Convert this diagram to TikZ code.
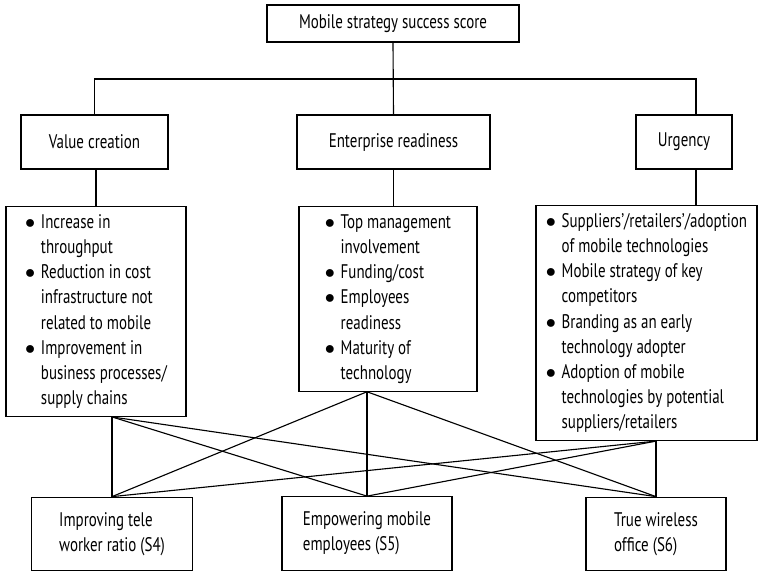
\documentclass[tikz,border=0pt]{standalone}
\usepackage{fontspec}
\setmainfont{PT Sans}[FakeStretch=0.76]
\usetikzlibrary{positioning}

\begin{document}
\begin{tikzpicture}[
    x=0.025cm, y=-0.025cm,
    font=\fontsize{14pt}{17.9pt}\selectfont,
    box/.style={
        draw=black,
        line width=0.8pt,
        align=center,
        inner sep=2pt
    },
    head/.style={
        box,
        minimum height=1.35cm
    },
    list/.style={
        box,
        anchor=north,
        inner ysep=3pt
    },
    leaf/.style={
        box,
        align=left,
        minimum height=1.84cm
    },
    link/.style={line width=0.8pt, draw=black}
]
\useasboundingbox (0,0) rectangle (758,573);

\node[box, minimum width=6.3cm, minimum height=0.925cm] (score) at (393,23.5) {Mobile strategy success score};

\node[head, minimum width=3.675cm] (value) at (94.5,142) {Value creation};
\node[head, minimum width=4.825cm] (ready) at (393.5,142) {Enterprise readiness};
\node[head, minimum width=2.4cm] (urgency) at (684,142) {Urgency};

\node[list, minimum width=4.5cm] (vlist) at (96,206) {%
\begin{tabular}{@{}l@{\hspace{4pt}}l@{}}
$\bullet$ & Increase in\\
 & throughput\\
$\bullet$ & Reduction in cost\\
 & infrastructure not\\
 & related to mobile\\
$\bullet$ & Improvement in\\
 & business processes/\\
 & supply chains
\end{tabular}};
\node[list, minimum width=4.45cm] (elist) at (388,206) {%
\begin{tabular}{@{}l@{\hspace{4pt}}l@{}}
$\bullet$ & Top management\\
 & involvement\\
$\bullet$ & Funding/cost\\
$\bullet$ & Employees\\
 & readiness\\
$\bullet$ & Maturity of\\
 & technology
\end{tabular}};
\node[list, minimum width=5.525cm] (ulist) at (646.5,205) {%
\begin{tabular}{@{}l@{\hspace{4pt}}l@{}}
$\bullet$ & Suppliers’/retailers’/adoption\\
 & of mobile technologies\\
$\bullet$ & Mobile strategy of key\\
 & competitors\\
$\bullet$ & Branding as an early\\
 & technology adopter\\
$\bullet$ & Adoption of mobile\\
 & technologies by potential\\
 & suppliers/retailers
\end{tabular}};

\node[leaf, minimum width=4.025cm] (s4) at (112,534) {Improving tele\\worker ratio (S4)};
\node[leaf, minimum width=4.25cm] (s5) at (367,533.5) {Empowering mobile\\employees (S5)};
\node[leaf, minimum width=3.5cm] (s6) at (656,534) {True wireless\\office (S6)};

% tree above the lists
\coordinate (ujoin) at (696,79);
\draw[link] (score.south) -- (ready.north);
\draw[link] (value.north) |- (ujoin) -- (ujoin |- urgency.north);
\draw[link] (vlist.north |- value.south) -- (vlist.north);
\draw[link] (ready.south) -- (ready.south |- elist.north);
\draw[link] (ujoin |- urgency.south) -- (ujoin |- ulist.north);

% every list feeds every strategy
\coordinate (vfoot) at (s4.north |- vlist.south);
\coordinate (efoot) at (s5.north |- elist.south);
\coordinate (ufoot) at (s6.north |- ulist.south);
\draw[link] (vfoot) -- (s4.north);
\draw[link] (vfoot) -- (s5.north);
\draw[link] (vfoot) -- (s6.north);
\draw[link] (efoot) -- (s4.north);
\draw[link] (efoot) -- (s5.north);
\draw[link] (efoot) -- (s6.north);
\draw[link] (ufoot) -- (s4.north);
\draw[link] (ufoot) -- (s5.north);
\draw[link] (ufoot) -- (s6.north);
\end{tikzpicture}
\end{document}
